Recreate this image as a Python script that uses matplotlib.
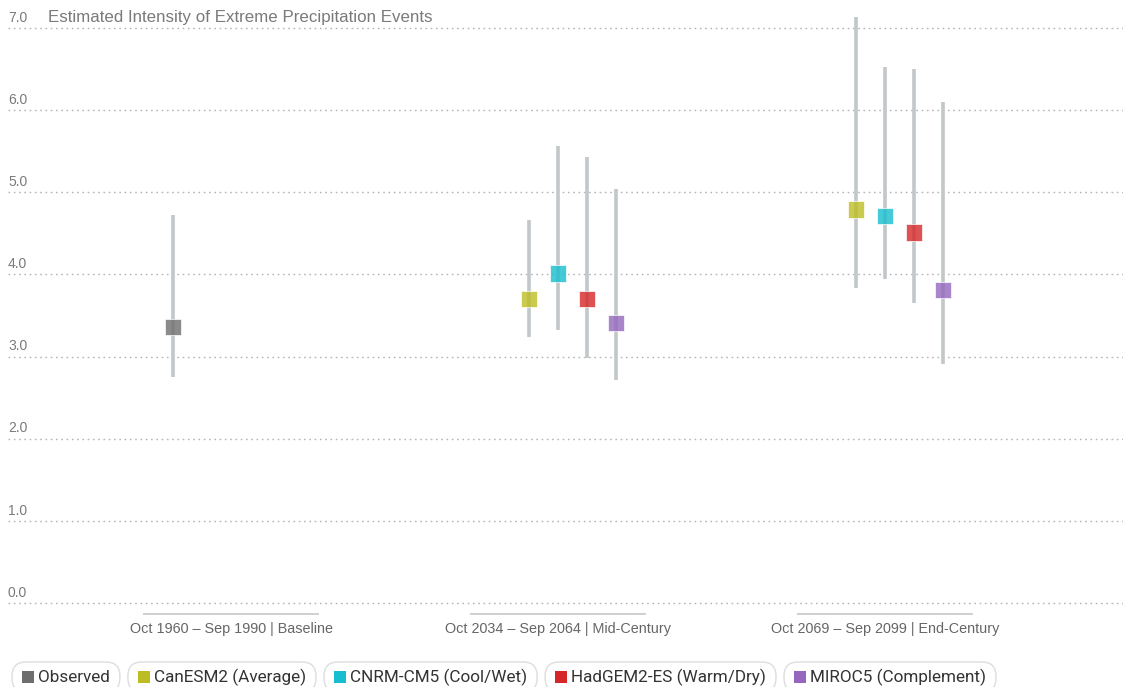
import numpy as np
import matplotlib.pyplot as plt
from matplotlib.patches import FancyBboxPatch, Rectangle
from matplotlib.transforms import IdentityTransform

# Data
periods = ['Oct 1960 – Sep 1990 | Baseline',
           'Oct 2034 – Sep 2064 | Mid-Century',
           'Oct 2069 – Sep 2099 | End-Century']
models = ['Observed', 'CanESM2 (Average)', 'CNRM-CM5 (Cool/Wet)',
          'HadGEM2-ES (Warm/Dry)', 'MIROC5 (Complement)']
colors = ['#6e6e6e', '#bcbd22', '#17becf', '#d62728', '#9467bd']

# (period index, model index)
pt_period = [0, 1, 1, 1, 1, 2, 2, 2, 2]
pt_model = [0, 1, 2, 3, 4, 1, 2, 3, 4]
median = [3.36, 3.70, 4.01, 3.70, 3.41, 4.79, 4.71, 4.51, 3.81]
low = [2.75, 3.24, 3.32, 2.98, 2.71, 3.83, 3.94, 3.65, 2.91]
high = [4.72, 4.66, 5.56, 5.43, 5.04, 7.13, 6.52, 6.50, 6.10]

yticks = [0.0, 1.0, 2.0, 3.0, 4.0, 5.0, 6.0, 7.0]
title = 'Estimated Intensity of Extreme Precipitation Events'

W, H = 1123, 687
fig = plt.figure(figsize=(W / 100, H / 100), dpi=100)
ax = fig.add_axes([8 / W, 1 - 610 / H, 1 - 8 / W, 600 / H])

slot = 29 / 327  # horizontal offset between models inside a period
xs = np.array(pt_period) + (np.array(pt_model) - 2) * slot

for y in yticks:
    ax.axhline(y, color='#b4b4b4', lw=1, ls=(0, (1.2, 2.6)), zorder=1)
    ax.text(0.0, y + 0.04, f'{y:.1f}', transform=ax.get_yaxis_transform(),
            ha='left', va='bottom', fontsize=10, color='#7a7a7a',
            family='Liberation Sans')

ax.vlines(xs, low, high, color='#c2c7ca', lw=2.6, zorder=2)
ax.scatter(xs, median, marker='s', s=140,
           c=[colors[m] for m in pt_model], alpha=0.8,
           edgecolors='white', linewidths=0.6, zorder=3)

ax.text(40 / (W - 8), 7.0 + 0.035, title, transform=ax.get_yaxis_transform(),
        ha='left', va='bottom', fontsize=12.2, color='#7a7a7a',
        family='Liberation Sans')

# x axis: period labels with short gray underline
ax.hlines([-0.135] * 3, np.arange(3) - 0.268, np.arange(3) + 0.268,
          color='#c8c8c8', lw=1.2, clip_on=False)
ax.set_xticks(range(3))
ax.set_xticklabels(periods, fontsize=10.4, color='#666666',
                   family='Liberation Sans')
ax.tick_params(axis='x', length=0, pad=9)
ax.set_yticks([])
ax.set_xlim((8 - 231) / 327, (1123 - 231) / 327)
ax.set_ylim(-0.085, 7 + 18 / 82.2)
for s in ax.spines.values():
    s.set_visible(False)

# legend as rounded "pills" along the bottom edge (pixel coordinates)
fig.canvas.draw()
renderer = fig.canvas.get_renderer()
px = IdentityTransform()
left = 12
yc = 677
for name, col in zip(models, colors):
    t = fig.text(0, 0, name, fontsize=12.3, color='#333333', family='Roboto',
                 va='center', ha='left')
    tw = t.get_window_extent(renderer).width
    sq_x = left + 10
    t.set_position(((sq_x + 16) / W, 1 - yc / H))
    fig.add_artist(Rectangle((sq_x, H - yc - 6), 12, 12, transform=px,
                             color=col, lw=0))
    pw = 10 + 16 + tw + 10
    fig.add_artist(FancyBboxPatch((left, H - yc - 15), pw, 30,
                                  boxstyle='round,pad=0,rounding_size=14',
                                  transform=px, fc='white',
                                  ec='#dddddd', lw=1, zorder=0))
    left += pw + 8

fig.savefig('out.png', dpi=100)
